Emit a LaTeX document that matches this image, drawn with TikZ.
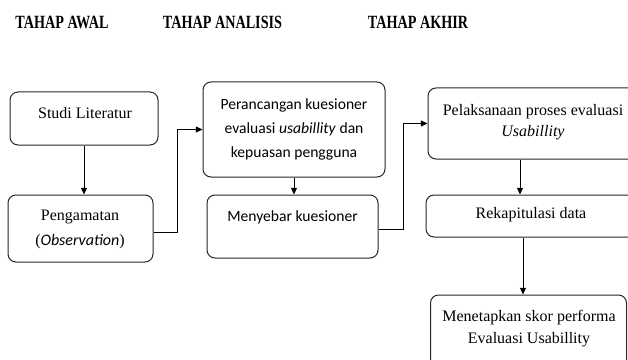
\documentclass[tikz,border=0pt]{standalone}
\usepackage{fontspec}
\setmainfont{Liberation Serif}
\newfontfamily\calfont{Carlito}
\usetikzlibrary{arrows.meta,calc}
\begin{document}
\begin{tikzpicture}[x=0.75pt,y=-0.75pt,
  box/.style={draw=black!85, rounded corners=6pt, line width=0.75pt, inner sep=0pt},
  lbl/.style={inner sep=0pt, align=center, font=\fontsize{12}{16}\selectfont},
  cal/.style={inner sep=0pt, align=center, font=\calfont\fontsize{11.7}{18}\selectfont},
  hdr/.style={inner sep=0pt, font=\bfseries\fontsize{14}{16}\selectfont},
  arr/.style={line width=0.75pt, -{Triangle[length=5pt,width=4.5pt]}}]
\useasboundingbox (0,0) rectangle (628,360);
\clip (0,0) rectangle (628,360);

% headers
\node[hdr] (h1) at (62,22) {\scalebox{0.76}[1]{TAHAP AWAL}};
\node[hdr] (h2) at (222.5,22) {\scalebox{0.76}[1]{TAHAP ANALISIS}};
\node[hdr] (h3) at (418,22) {\scalebox{0.76}[1]{TAHAP AKHIR}};

% boxes
\node[box, minimum width=111pt, minimum height=39.75pt] (b1) at (84,118.5) {};
\node[box, minimum width=108.75pt, minimum height=50.25pt] (b2) at (80.5,228.5) {};
\node[box, minimum width=136.5pt, minimum height=71.25pt] (b3) at (294,129.5) {};
\node[box, minimum width=128.25pt, minimum height=47.25pt] (b4) at (292.5,226.5) {};
\node[box, minimum width=174pt, minimum height=53.25pt] (b5) at (544,123.5) {};
\node[box, minimum width=175.5pt, minimum height=31.5pt] (b6) at (543,216) {};
\node[box, minimum width=147pt, minimum height=63.75pt] (b7) at (528.5,337.5) {};

% texts
\node[lbl] (t1) at (85,113) {Studi Literatur};
\node[lbl, font=\fontsize{12}{18.75}\selectfont] (t2) at (80,229) {Pengamatan\\({\calfont\itshape Observation})};
\node[cal] (t3) at (294,129) {Perancangan kuesioner\\evaluasi \textit{usabillity} dan\\kepuasan pengguna};
\node[cal] (t4) at (292.5,217) {Menyebar kuesioner};
\node[lbl, font=\fontsize{12}{15.75}\selectfont] (t5) at (533,122.5) {Pelaksanaan proses evaluasi\\\textit{Usabillity}};
\node[lbl] (t6) at (531,215) {Rekapitulasi data};
\node[lbl, font=\fontsize{12}{16.5}\selectfont] (t7) at (529,329) {Menetapkan skor performa\\Evaluasi Usabillity};

% connectors
\coordinate (c56) at (520,0);
\coordinate (c67) at (523,0);
\draw[arr] (b1.south) -- (b1.south |- b2.north);
\draw[arr] (b3.south) -- (b3.south |- b4.north);
\draw[arr] (b5.south -| c56) -- (b6.north -| c56);
\draw[arr] (b6.south -| c67) -- (b7.north -| c67);
\draw[arr] ([yshift=-3pt]b2.east) -- ++(24,0) |- (b3.west);
\draw[arr] ([yshift=-2pt]b4.east) -- ++(25,0) |- (b5.west);
\end{tikzpicture}
\end{document}
